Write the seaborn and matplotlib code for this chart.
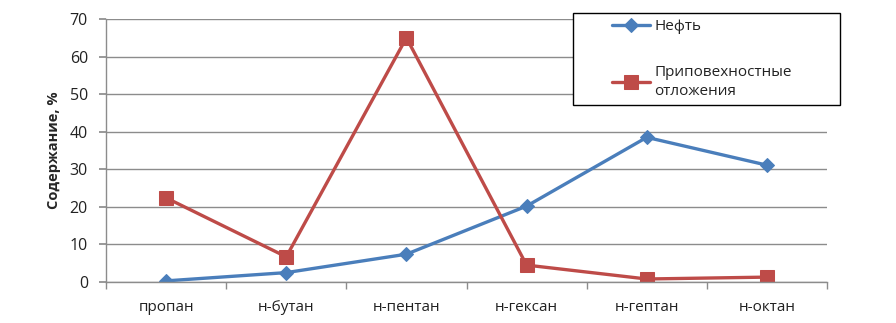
import matplotlib
matplotlib.use("Agg")
import matplotlib.pyplot as plt
import seaborn as sns
import pandas as pd
from matplotlib.patches import Rectangle
from matplotlib.ticker import MultipleLocator, FixedLocator

categories = ["пропан", "н-бутан", "н-пентан", "н-гексан", "н-гептан", "н-октан"]
oil = [0.3, 2.5, 7.4, 20.2, 38.5, 31.1]
deposits = [22.4, 6.7, 65.0, 4.5, 0.8, 1.3]
series_names = ["Нефть", "Приповехностные\nотложения"]
y_label = "Содержание, %"

sns.set_theme(style="white")
plt.rcParams["font.family"] = ["Open Sans", "DejaVu Sans"]

df = pd.DataFrame({
    "cat": categories * 2,
    "x": list(range(len(categories))) * 2,
    "value": oil + deposits,
    "series": [series_names[0]] * len(categories) + [series_names[1]] * len(categories),
})

fig = plt.figure(figsize=(8.96, 3.23), dpi=100)
ax = fig.add_axes([106 / 896, 1 - 282 / 323, 721 / 896, 263 / 323])

palette = {series_names[0]: "#4a7ebb", series_names[1]: "#be4b48"}
markers = {series_names[0]: "D", series_names[1]: "s"}
sizes_m = {series_names[0]: 7.5, series_names[1]: 9.5}

for name in series_names:
    sub = df[df["series"] == name]
    sns.lineplot(data=sub, x="x", y="value", ax=ax, color=palette[name],
                 marker=markers[name], markersize=sizes_m[name],
                 markeredgecolor=palette[name], linewidth=2.4, label=name,
                 legend=False)

ax.set_xlim(-0.5, len(categories) - 0.5)
ax.set_ylim(0, 70)
ax.yaxis.set_major_locator(MultipleLocator(10))
ax.grid(axis="y", color="#8c8c8c", linewidth=1)
ax.set_axisbelow(True)
for s in ["top", "right"]:
    ax.spines[s].set_visible(False)
for s in ["left", "bottom"]:
    ax.spines[s].set_color("#8c8c8c")
    ax.spines[s].set_linewidth(1)

ax.set_xticks(range(len(categories)))
ax.set_xticklabels(categories, fontsize=11, color="#222222")
ax.xaxis.set_minor_locator(FixedLocator([i - 0.5 for i in range(len(categories) + 1)]))
ax.tick_params(axis="x", which="major", length=0, pad=13)
ax.tick_params(axis="x", which="minor", length=5, color="#8c8c8c", direction="out", bottom=True)
ax.tick_params(axis="y", which="major", length=5, color="#8c8c8c", direction="out", left=True,
               labelsize=11.5, labelcolor="#222222", pad=8)
ax.set_xlabel("")
ax.set_ylabel(y_label, fontsize=10.5, fontweight="bold", labelpad=6)

# legend box
rect = Rectangle((573 / 896, 1 - 105 / 323), 267 / 896, 92 / 323, transform=fig.transFigure,
                 facecolor="white", edgecolor="black", linewidth=1, zorder=5)
fig.patches.append(rect)
handles, labels = ax.get_legend_handles_labels()
leg = fig.legend(handles, labels, loc="upper left", bbox_to_anchor=(612 / 896, 1 - 19 / 323),
                 frameon=False, fontsize=11, handlelength=2.5, handletextpad=0.25,
                 labelspacing=2.0, borderpad=0, borderaxespad=0)
leg.set_zorder(6)
for t in leg.get_texts():
    t.set_color("#222222")
    t.set_linespacing(1.4)

fig.savefig("out.png", dpi=100)
